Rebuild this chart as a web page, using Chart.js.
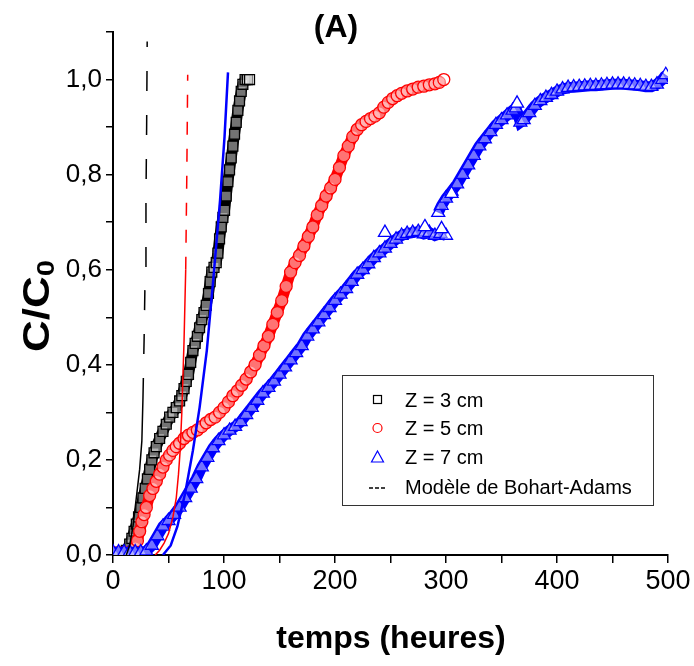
<!DOCTYPE html>
<html>
<head>
<meta charset="utf-8">
<script src="https://cdn.jsdelivr.net/npm/chart.js@4.4.1/dist/chart.umd.min.js"></script>
<style>
  body { margin: 0; background: #fff; }
  #wrap { width: 694px; height: 666px; position: relative; }
</style>
</head>
<body>
<div id="wrap"><canvas id="chart"></canvas></div>
<script>
// Z = 3 cm (carrés noirs)
const tempsZ3 = [0, 3, 6, 9, 12, 15, 17, 19, 21, 23, 25, 27, 29, 31, 33, 35, 37, 39, 42, 45, 48, 51, 54, 57, 60, 62, 64, 66, 68, 70, 72, 74, 76, 78, 80, 82, 84, 86, 87.5, 89, 91, 93, 94.5, 96, 97.5, 99, 100.5, 102, 103.5, 105, 106.5, 108, 109.5, 111, 112.5, 114, 115.5, 117, 119, 121, 123];
const cZ3 = [0.005, 0.005, 0.005, 0.006, 0.01, 0.023, 0.035, 0.05, 0.065, 0.08, 0.1, 0.12, 0.14, 0.16, 0.18, 0.2, 0.215, 0.228, 0.245, 0.26, 0.275, 0.29, 0.3, 0.31, 0.324, 0.335, 0.35, 0.365, 0.38, 0.405, 0.43, 0.445, 0.46, 0.478, 0.495, 0.51, 0.525, 0.55, 0.575, 0.595, 0.605, 0.615, 0.635, 0.665, 0.69, 0.71, 0.725, 0.755, 0.785, 0.81, 0.835, 0.86, 0.885, 0.91, 0.935, 0.955, 0.975, 0.99, 1.0, 1.0, 1.0];

// Z = 5 cm (cercles rouges)
const tempsZ5 = [0, 5, 10, 15, 18, 20, 22, 24, 26, 28, 30, 33, 36, 39, 42, 45, 48, 51, 54, 57, 60, 64, 68, 72, 76, 80, 84, 88, 92, 96, 100, 104, 108, 112, 116, 120, 124, 128, 132, 136, 140, 144, 148, 152, 156, 160, 164, 168, 172, 176, 180, 184, 188, 192, 196, 200, 204, 208, 212, 216, 220, 224, 228, 232, 236, 240, 244, 248, 252, 256, 260, 265, 270, 275, 280, 285, 290, 294, 298];
const cZ5 = [0.005, 0.005, 0.005, 0.006, 0.01, 0.015, 0.03, 0.05, 0.07, 0.085, 0.1, 0.125, 0.14, 0.155, 0.17, 0.185, 0.2, 0.21, 0.22, 0.228, 0.235, 0.245, 0.252, 0.258, 0.263, 0.27, 0.278, 0.285, 0.29, 0.3, 0.31, 0.322, 0.335, 0.345, 0.357, 0.37, 0.385, 0.4, 0.42, 0.44, 0.46, 0.485, 0.51, 0.535, 0.565, 0.595, 0.615, 0.63, 0.65, 0.67, 0.69, 0.715, 0.735, 0.755, 0.772, 0.79, 0.815, 0.84, 0.86, 0.88, 0.895, 0.905, 0.912, 0.918, 0.923, 0.93, 0.942, 0.952, 0.96, 0.966, 0.971, 0.976, 0.98, 0.984, 0.986, 0.989, 0.991, 0.994, 1.0];

// Z = 7 cm (triangles bleus), première partie jusqu'à ~300 h
const tempsZ7a = [0, 5, 10, 15, 20, 25, 30, 35, 40, 45, 50, 55, 60, 65, 70, 75, 80, 85, 90, 95, 100, 105, 110, 115, 120, 125, 130, 135, 140, 145, 150, 155, 160, 165, 170, 175, 180, 185, 190, 195, 200, 205, 210, 215, 220, 225, 230, 235, 240, 245, 250, 255, 260, 265, 270, 275, 280, 285, 290, 295, 300];
const cZ7a = [0.006, 0.006, 0.006, 0.006, 0.006, 0.006, 0.008, 0.02, 0.04, 0.06, 0.072, 0.085, 0.1, 0.12, 0.14, 0.16, 0.185, 0.205, 0.225, 0.24, 0.252, 0.262, 0.27, 0.28, 0.295, 0.31, 0.325, 0.34, 0.352, 0.365, 0.38, 0.395, 0.41, 0.425, 0.44, 0.46, 0.475, 0.49, 0.505, 0.52, 0.535, 0.548, 0.56, 0.575, 0.59, 0.6, 0.612, 0.625, 0.635, 0.645, 0.655, 0.664, 0.672, 0.676, 0.678, 0.68, 0.675, 0.678, 0.672, 0.676, 0.672];
// seconde partie, après le saut
const tempsZ7b = [293, 296, 300, 305, 310, 315, 320, 325, 330, 335, 340, 345, 350, 355, 360, 363, 367, 370, 375, 380, 385, 390, 395, 400, 405, 410, 415, 420, 425, 430, 435, 440, 445, 450, 455, 460, 465, 470, 475, 480, 485, 490, 495, 498];
const cZ7b = [0.72, 0.735, 0.75, 0.765, 0.78, 0.8, 0.82, 0.84, 0.86, 0.875, 0.89, 0.905, 0.915, 0.925, 0.935, 0.94, 0.91, 0.915, 0.93, 0.945, 0.955, 0.962, 0.968, 0.975, 0.98, 0.983, 0.984, 0.985, 0.986, 0.987, 0.987, 0.988, 0.989, 0.99, 0.99, 0.99, 0.989, 0.988, 0.987, 0.985, 0.985, 0.99, 1.0, 1.01];
// triangles isolés
const tempsZ7iso = [245, 281, 296, 305, 364];
const cZ7iso = [0.678, 0.69, 0.686, 0.76, 0.95];

// Modèle de Bohart-Adams
const tempsModZ3 = [12, 15, 18, 20, 22, 24, 26, 27, 28, 29, 29.7, 30.3, 30.8];
const cModZ3 = [0, 0.02, 0.06, 0.1, 0.14, 0.18, 0.24, 0.33, 0.45, 0.6, 0.75, 0.9, 1.08];
const tempsModZ5 = [38, 42, 46, 50, 54, 57, 59, 60.5, 62, 64, 65.5, 66.5, 67.3];
const cModZ5 = [0, 0.01, 0.025, 0.045, 0.08, 0.12, 0.17, 0.22, 0.3, 0.45, 0.6, 0.8, 1.01];
const tempsModZ7 = [45, 52, 58, 65, 72, 78, 84.5, 90, 96.4, 100.5, 103.6];
const cModZ7 = [0, 0.02, 0.06, 0.13, 0.22, 0.31, 0.43, 0.57, 0.745, 0.88, 1.015];

const xTicksMajor = [0, 100, 200, 300, 400, 500];

function pts(xs, ys) { return xs.map((x, i) => ({ x, y: ys[i] })); }

const FONT = "'Liberation Sans', Arial, Helvetica, sans-serif";
const NOIR = "#000000", ROUGE = "#ff0000", BLEU = "#0000ff";

// titres, axes et légende dessinés à la main
const decor = {
  id: "decor",
  afterDraw(chart) {
    const ctx = chart.ctx;
    ctx.save();
    ctx.fillStyle = "#000";
    ctx.textAlign = "center";
    ctx.textBaseline = "middle";
    ctx.font = "bold 32px " + FONT;
    ctx.fillText("(A)", 336, 28);
    ctx.fillText("temps (heures)", 391, 639);

    // C/C0 vertical
    ctx.save();
    ctx.translate(36, 306);
    ctx.rotate(-Math.PI / 2);
    ctx.scale(1.22, 1);
    ctx.font = "bold 36px " + FONT;
    const w1 = ctx.measureText("C/C").width;
    ctx.font = "bold 24px " + FONT;
    const w2 = ctx.measureText("0").width;
    const x0 = -(w1 + w2) / 2;
    ctx.textAlign = "left";
    ctx.textBaseline = "alphabetic";
    ctx.font = "bold 36px " + FONT;
    ctx.fillText("C/C", x0, 13);
    ctx.font = "bold 24px " + FONT;
    ctx.fillText("0", x0 + w1, 18);
    ctx.restore();

    // légende
    ctx.strokeStyle = "#333";
    ctx.lineWidth = 1;
    ctx.strokeRect(342.5, 375.5, 311, 130);
    ctx.textAlign = "left";
    ctx.font = "20px " + FONT;
    const rows = [400, 428, 457, 487];
    const labels = ["Z = 3 cm", "Z = 5 cm", "Z = 7 cm", "Modèle de Bohart-Adams"];
    labels.forEach((t, i) => ctx.fillText(t, 405, rows[i] + 1));
    ctx.lineWidth = 1.2;
    ctx.strokeStyle = NOIR;
    ctx.strokeRect(373.5, rows[0] - 4.5, 8, 8);
    ctx.strokeStyle = ROUGE;
    ctx.beginPath(); ctx.arc(377.5, rows[1], 4.5, 0, Math.PI * 2); ctx.stroke();
    ctx.strokeStyle = BLEU;
    ctx.beginPath();
    ctx.moveTo(377.5, rows[2] - 6); ctx.lineTo(383.5, rows[2] + 5); ctx.lineTo(371.5, rows[2] + 5); ctx.closePath();
    ctx.stroke();
    ctx.strokeStyle = NOIR;
    ctx.lineWidth = 1.5;
    for (let k = 0; k < 3; k++) {
      ctx.beginPath(); ctx.moveTo(369 + k * 6, rows[3] + 1); ctx.lineTo(373 + k * 6, rows[3] + 1); ctx.stroke();
    }
    ctx.restore();
  }
};

// bande de fond (les marqueurs très serrés de l'original) + marqueurs
function serie(label, xs, ys, color, style, r, order) {
  return [
    { label: label + " bande", data: pts(xs, ys), showLine: true, borderColor: color, borderWidth: 11, pointRadius: 0, order: order + 0.5 },
    { label, data: pts(xs, ys), pointStyle: style, pointRadius: r, borderColor: color, backgroundColor: "rgba(255,255,255,0.45)", pointBorderWidth: 1.3, order }
  ];
}

// modèle : trait plein dans la partie basse, pointillés dans la partie quasi verticale
const dashAbove = (lim, dash) => (c) => c.p1.parsed.y > lim ? dash : [];

new Chart(document.getElementById("chart"), {
  type: "scatter",
  data: {
    datasets: [
      { label: "modèle Z3", data: pts(tempsModZ3, cModZ3), showLine: true, borderColor: NOIR, borderWidth: 1.5, pointRadius: 0, order: 0,
        segment: { borderDash: dashAbove(0.38, [20, 24]) } },
      { label: "modèle Z5", data: pts(tempsModZ5, cModZ5), showLine: true, borderColor: ROUGE, borderWidth: 1.5, pointRadius: 0, order: 0,
        segment: { borderDash: dashAbove(0.7, [13, 14]) } },
      { label: "modèle Z7", data: pts(tempsModZ7, cModZ7), showLine: true, borderColor: BLEU, borderWidth: 2.5, pointRadius: 0, order: 0 },
      { label: "iso", data: pts(tempsZ7iso, cZ7iso), pointStyle: "triangle", pointRadius: 7.5, borderColor: BLEU, backgroundColor: "#fff", pointBorderWidth: 1.3, order: 1 },
      ...serie("Z = 7 cm (b)", tempsZ7b, cZ7b, BLEU, "triangle", 7.5, 2),
      ...serie("Z = 7 cm", tempsZ7a, cZ7a, BLEU, "triangle", 7.5, 3),
      ...serie("Z = 5 cm", tempsZ5, cZ5, ROUGE, "circle", 6, 5),
      ...serie("Z = 3 cm", tempsZ3, cZ3, NOIR, "rect", 7, 7)
    ]
  },
  options: {
    responsive: true,
    maintainAspectRatio: false,
    animation: false,
    layout: { padding: { left: 0, right: 26, top: 32, bottom: 0 } },
    plugins: { legend: { display: false }, tooltip: { enabled: false }, title: { display: false } },
    scales: {
      x: {
        type: "linear", min: 0, max: 500,
        afterFit: (s) => { s.height = 111; },
        border: { color: "#000", width: 2 },
        grid: { drawOnChartArea: false, color: "#000", tickLength: 8, lineWidth: 1.5 },
        ticks: {
          stepSize: 50, color: "#000", padding: 2,
          font: { family: FONT, size: 27 },
          callback: (v) => xTicksMajor.includes(v) ? String(v) : ""
        }
      },
      y: {
        type: "linear", min: 0, max: 1.1,
        afterFit: (s) => { s.width = 113; },
        border: { color: "#000", width: 2 },
        grid: { drawOnChartArea: false, color: "#000", tickLength: 7, lineWidth: 1.5 },
        ticks: {
          stepSize: 0.1, color: "#000", padding: 4,
          font: { family: FONT, size: 26 },
          callback: (v) => Math.round(v * 10) % 2 === 0 ? v.toFixed(1).replace(".", ",") : ""
        }
      }
    }
  },
  plugins: [decor]
});
</script>
</body>
</html>
